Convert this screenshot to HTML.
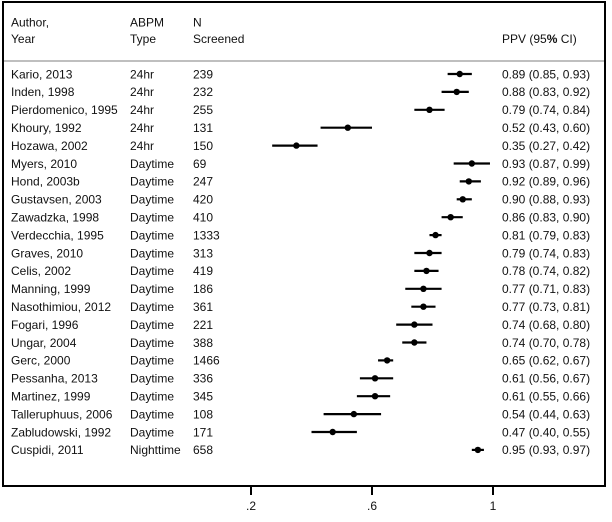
<!DOCTYPE html>
<html><head><meta charset="utf-8"><style>
html,body{margin:0;padding:0;background:#fff}
svg{display:block}
text{font-family:"Liberation Sans",Arial,sans-serif;font-size:12px;fill:#111}
</style></head><body>
<svg width="612" height="522" viewBox="0 0 612 522" xmlns="http://www.w3.org/2000/svg">
<rect x="3" y="2" width="602" height="484" fill="none" stroke="#000" stroke-width="2"/>
<line x1="4" y1="61" x2="604" y2="61" stroke="#999" stroke-width="1.2"/>
<text x="11" y="26.5">Author,</text>
<text x="11" y="43">Year</text>
<text x="130" y="26.5">ABPM</text>
<text x="130" y="43">Type</text>
<text x="193" y="26.5">N</text>
<text x="193" y="43">Screened</text>
<text x="502" y="43">PPV (95<tspan font-weight="bold">%</tspan> CI)</text>
<g id="rows"></g>
<g stroke="#000" stroke-width="2">
<line x1="251" y1="486" x2="251" y2="495"/>
<line x1="372" y1="486" x2="372" y2="495"/>
<line x1="493" y1="486" x2="493" y2="495"/>
</g>
<text x="251" y="510" text-anchor="middle">.2</text>
<text x="372" y="510" text-anchor="middle">.6</text>
<text x="493" y="510" text-anchor="middle">1</text>
</svg>
<script>
var d=[["Kario, 2013","24hr","239",.89,.85,.93],["Inden, 1998","24hr","232",.88,.83,.92],["Pierdomenico, 1995","24hr","255",.79,.74,.84],["Khoury, 1992","24hr","131",.52,.43,.60],["Hozawa, 2002","24hr","150",.35,.27,.42],["Myers, 2010","Daytime","69",.93,.87,.99],["Hond, 2003b","Daytime","247",.92,.89,.96],["Gustavsen, 2003","Daytime","420",.90,.88,.93],["Zawadzka, 1998","Daytime","410",.86,.83,.90],["Verdecchia, 1995","Daytime","1333",.81,.79,.83],["Graves, 2010","Daytime","313",.79,.74,.83],["Celis, 2002","Daytime","419",.78,.74,.82],["Manning, 1999","Daytime","186",.77,.71,.83],["Nasothimiou, 2012","Daytime","361",.77,.73,.81],["Fogari, 1996","Daytime","221",.74,.68,.80],["Ungar, 2004","Daytime","388",.74,.70,.78],["Gerc, 2000","Daytime","1466",.65,.62,.67],["Pessanha, 2013","Daytime","336",.61,.56,.67],["Martinez, 1999","Daytime","345",.61,.55,.66],["Talleruphuus, 2006","Daytime","108",.54,.44,.63],["Zabludowski, 1992","Daytime","171",.47,.40,.55],["Cuspidi, 2011","Nighttime","658",.95,.93,.97]];
function X(v){return 251+(v-0.2)*302.5}
function f(v){return v.toFixed(2)}
var s="";
d.forEach(function(r,i){var y=74+i*17.9;var b=y+4.3;
s+='<text x="11" y="'+b+'">'+r[0]+'</text><text x="130" y="'+b+'">'+r[1]+'</text><text x="193" y="'+b+'">'+r[2]+'</text>';
s+='<text x="502" y="'+b+'">'+f(r[3])+' ('+f(r[4])+', '+f(r[5])+')</text>';
s+='<line x1="'+X(r[4])+'" y1="'+y+'" x2="'+X(r[5])+'" y2="'+y+'" stroke="#000" stroke-width="2.2"/>';
s+='<circle cx="'+X(r[3])+'" cy="'+y+'" r="3.2" fill="#000"/>';});
document.getElementById("rows").innerHTML=s;
</script>
</body></html>
